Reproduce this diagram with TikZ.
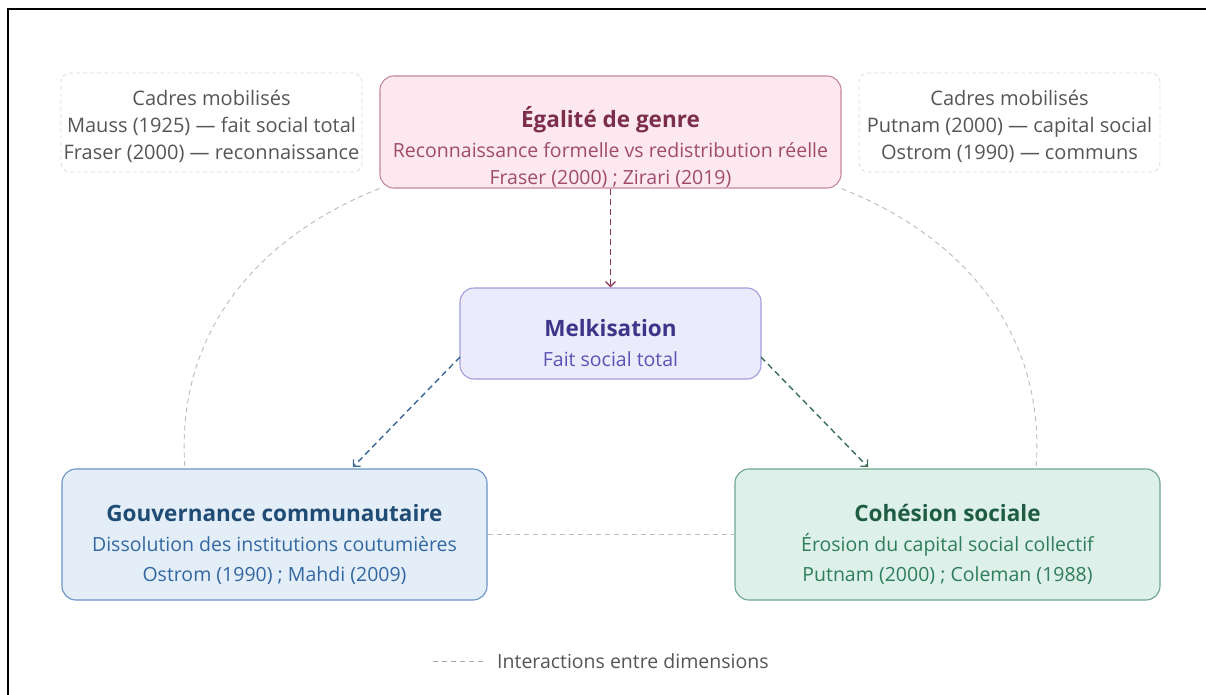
\documentclass[tikz,border=0pt]{standalone}
\usepackage{fontspec}
\setmainfont{Open Sans}
\usetikzlibrary{arrows.meta,calc}
\definecolor{egFill}{HTML}{FCE8EE}
\definecolor{egDraw}{HTML}{C9879C}
\definecolor{egTitle}{HTML}{7B2D4B}
\definecolor{egText}{HTML}{A04B6C}
\definecolor{egArrow}{HTML}{8B3556}
\definecolor{mkFill}{HTML}{ECEBFB}
\definecolor{mkDraw}{HTML}{A29DDB}
\definecolor{mkTitle}{HTML}{3C3589}
\definecolor{mkText}{HTML}{5B52B5}
\definecolor{gvFill}{HTML}{E3EEF9}
\definecolor{gvDraw}{HTML}{6A93C6}
\definecolor{gvTitle}{HTML}{1F4B74}
\definecolor{gvText}{HTML}{3367A0}
\definecolor{gvArrow}{HTML}{3A6898}
\definecolor{chFill}{HTML}{DDF1EA}
\definecolor{chDraw}{HTML}{6FA58B}
\definecolor{chTitle}{HTML}{1F5C44}
\definecolor{chText}{HTML}{2F7D5C}
\definecolor{chArrow}{HTML}{3A6E58}
\definecolor{grayText}{HTML}{555555}
\definecolor{frameGray}{HTML}{DCDCDC}
\definecolor{curveGray}{HTML}{BBBBBB}
\newcommand{\ttlfont}{\fontsize{22.5}{26}\selectfont\bfseries}
\tikzset{
  boxbase/.style={rounded corners=14pt, line width=1.1pt, inner sep=0pt},
  egbox/.style={boxbase, fill=egFill, draw=egDraw, minimum width=461pt, minimum height=112pt},
  mkbox/.style={boxbase, fill=mkFill, draw=mkDraw, minimum width=301pt, minimum height=91pt},
  gvbox/.style={boxbase, fill=gvFill, draw=gvDraw, minimum width=425pt, minimum height=131pt},
  chbox/.style={boxbase, fill=chFill, draw=chDraw, minimum width=425pt, minimum height=131pt},
  cadrebox/.style={rounded corners=9pt, draw=frameGray, dashed, dash pattern=on 4pt off 3pt, line width=0.8pt, minimum width=301pt, minimum height=99pt, inner sep=0pt},
  txt/.style={align=center, inner sep=0pt, font=\fontsize{19.5}{27}\selectfont},
  flow/.style={dash pattern=on 6pt off 4pt, line width=1.4pt, -{Straight Barb[length=5pt,width=10pt,line width=1.3pt]}},
  interact/.style={curveGray, dash pattern=on 5pt off 4pt, line width=0.9pt},
}
\begin{document}
\begin{tikzpicture}[x=1pt,y=-1pt]
\useasboundingbox (0,0) rectangle (1206,695);
\fill[white] (0,0) rectangle (1206,695);
\draw[line width=2pt, black] (1206,9) -- (8,9) -- (8,695);

% context boxes
\node[cadrebox] (cadL) at (211.5,122.5) {};
\node[txt, text=grayText, font=\fontsize{20}{27}\selectfont] (cadLt) at (211.5,126) {Cadres mobilisés\\Mauss (1925) — fait social total\\Fraser (2000) — reconnaissance};
\node[cadrebox] (cadR) at (1009.5,122.5) {};
\node[txt, text=grayText, font=\fontsize{20}{27}\selectfont] (cadRt) at (1009.5,126) {Cadres mobilisés\\Putnam (2000) — capital social\\Ostrom (1990) — communs};

% main boxes
\node[egbox] (eg) at (610.5,132) {};
\node[txt] (egt) at (610.5,147) {{\ttlfont\color{egTitle}Égalité de genre}\\[3pt]{\color{egText}Reconnaissance formelle vs redistribution réelle}\\{\color{egText}Fraser (2000) ; Zirari (2019)}};

\node[mkbox] (mk) at (610.5,333.5) {};
\node[txt] (mkt) at (610.5,343) {{\ttlfont\color{mkTitle}Melkisation}\\[3pt]{\color{mkText}Fait social total}};

\node[gvbox] (gv) at (274.5,534.5) {};
\node[txt, font=\fontsize{19.5}{30}\selectfont] (gvt) at (274.5,544) {{\ttlfont\color{gvTitle}Gouvernance communautaire}\\{\color{gvText}Dissolution des institutions coutumières}\\{\color{gvText}Ostrom (1990) ; Mahdi (2009)}};

\node[chbox] (ch) at (947.5,534.5) {};
\node[txt, font=\fontsize{19.5}{30}\selectfont] (cht) at (947.5,544) {{\ttlfont\color{chTitle}Cohésion sociale}\\{\color{chText}Érosion du capital social collectif}\\{\color{chText}Putnam (2000) ; Coleman (1988)}};

% interaction lines
\coordinate (gvTop) at (185,469);
\coordinate (chTop) at (1036,469);
\draw[interact] (eg.south west) .. controls (250,240) and (175,340) .. (gvTop);
\draw[interact] (eg.south east) .. controls (971,240) and (1046,340) .. (chTop);
\draw[interact] (gv.east) -- (ch.west);

% flows
\coordinate (mkL) at (460,357);
\coordinate (mkR) at (761,357);
\coordinate (gvIn) at (353,467);
\coordinate (chIn) at (868,467);
\draw[flow, egArrow] (eg.south) -- (mk.north);
\draw[flow, gvArrow] (mkL) -- (gvIn);
\draw[flow, chArrow] (mkR) -- (chIn);

% legend
\node[anchor=west, inner sep=0pt, text=grayText, font=\fontsize{19.5}{22}\selectfont] (leg) at (497,661) {Interactions entre dimensions};
\coordinate (lg1) at (433,661);
\coordinate (lg2) at (485,661);
\draw[interact, line width=1pt, curveGray!90!black] (lg1) -- (lg2);
\end{tikzpicture}
\end{document}
